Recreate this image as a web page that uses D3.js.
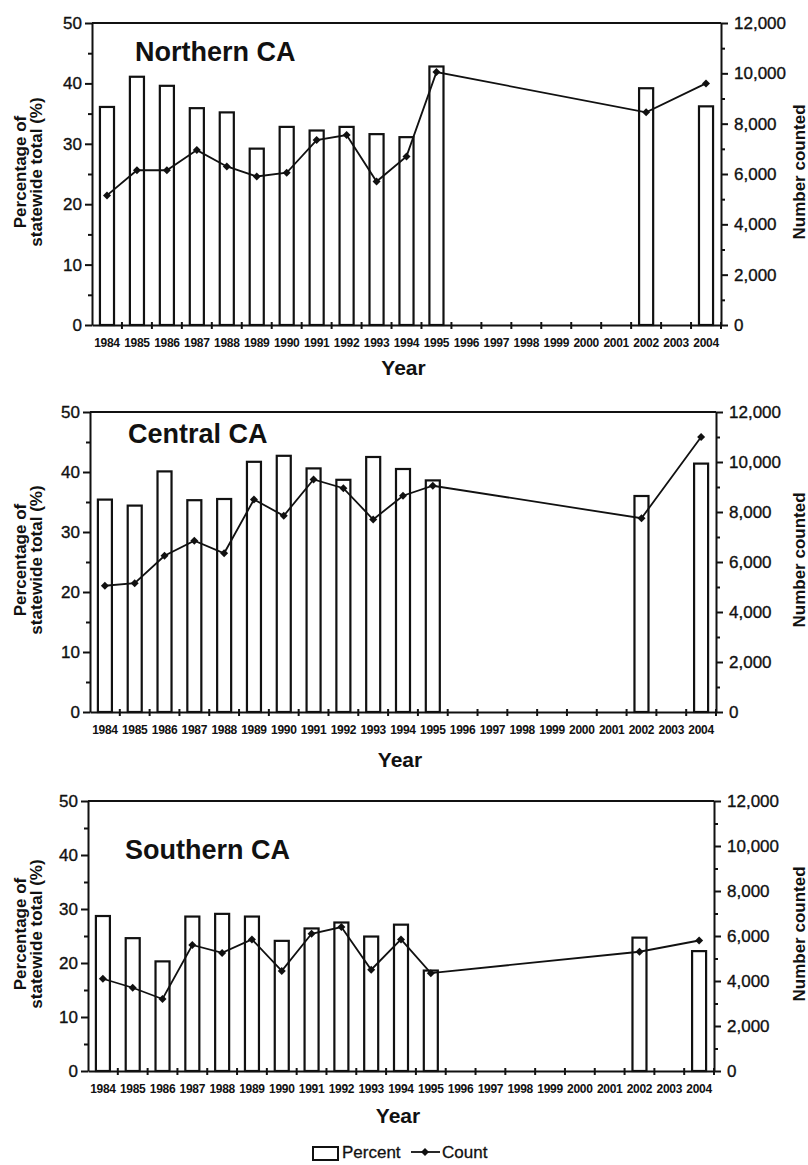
<!DOCTYPE html>
<html>
<head>
<meta charset="utf-8">
<script src="https://cdn.jsdelivr.net/npm/d3@7"></script>
<style>
  body { margin: 0; background: #fff; }
  svg { display: block; font-family: "Liberation Sans", Arial, sans-serif; }
</style>
</head>
<body>
<script>
// categories on the x axis (every year gets a slot, only some have data)
const years = ['1984','1985','1986','1987','1988','1989','1990','1991','1992','1993','1994',
  '1995','1996','1997','1998','1999','2000','2001','2002','2003','2004']
const dataYears = ['1984','1985','1986','1987','1988','1989','1990','1991','1992','1993','1994','1995','2002','2004']

// percent of statewide total (bars)
const northPct = [36.1, 41.1, 39.6, 35.9, 35.2, 29.2, 32.8, 32.2, 32.8, 31.6, 31.1, 42.8, 39.2, 36.2]
const centralPct = [35.4, 34.4, 40.1, 35.3, 35.5, 41.7, 42.7, 40.6, 38.7, 42.5, 40.5, 38.6, 36.0, 41.4]
const southPct = [28.7, 24.6, 20.3, 28.6, 29.1, 28.6, 24.1, 26.4, 27.5, 24.9, 27.1, 18.6, 24.7, 22.2]

// number counted (line)
const northCount = [5150, 6150, 6150, 6950, 6300, 5900, 6050, 7350, 7550, 5700, 6700, 10050, 8450, 9600]
const centralCount = [5050, 5150, 6250, 6850, 6350, 8500, 7850, 9300, 8950, 7700, 8650, 9050, 7750, 11000]
const southCount = [4100, 3700, 3200, 5600, 5250, 5850, 4450, 6100, 6400, 4500, 5850, 4350, 5300, 5800]

// ticks
const pctTicks = [0, 10, 20, 30, 40, 50]
const pctMinor = [5, 15, 25, 35, 45]
const countTicks = [0, 2000, 4000, 6000, 8000, 10000, 12000]
const countMinor = [1000, 3000, 5000, 7000, 9000, 11000]

const panels = [
  {title: 'Northern CA', pct: northPct, count: northCount, x0: 92, x1: 721, y0: 23, y1: 325, tx: 135, ty: 61, yearDy: 50},
  {title: 'Central CA', pct: centralPct, count: centralCount, x0: 90, x1: 716, y0: 412, y1: 712, tx: 128, ty: 443, yearDy: 55},
  {title: 'Southern CA', pct: southPct, count: southCount, x0: 88, x1: 714, y0: 801, y1: 1071, tx: 125, ty: 859, yearDy: 52}
]

const ink = '#111'
const svg = d3.select('body').append('svg').attr('width', 808).attr('height', 1165)

const diamond = d3.symbol().type(d3.symbolSquare).size(32)

panels.forEach(p => {
  const g = svg.append('g')
  const x = d3.scaleBand().domain(years).range([p.x0, p.x1])
  const yP = d3.scaleLinear().domain([0, 50]).range([p.y1, p.y0])
  const yC = d3.scaleLinear().domain([0, 12000]).range([p.y1, p.y0])
  const bw = x.bandwidth() * 0.47

  const rows = dataYears.map((yr, i) => ({year: yr, pct: p.pct[i], count: p.count[i]}))

  // bars
  g.selectAll('rect.bar').data(rows).enter().append('rect')
    .attr('class', 'bar')
    .attr('x', d => x(d.year) + (x.bandwidth() - bw) / 2)
    .attr('y', d => yP(d.pct))
    .attr('width', bw)
    .attr('height', d => yP(0) - yP(d.pct))
    .attr('fill', '#fff')
    .attr('stroke', ink)
    .attr('stroke-width', 2.2)

  // top frame line
  g.append('line')
    .attr('x1', p.x0).attr('x2', p.x1).attr('y1', p.y0).attr('y2', p.y0)
    .attr('stroke', ink).attr('stroke-width', 2)

  // left axis
  const left = g.append('g').attr('transform', `translate(${p.x0},0)`)
  left.call(d3.axisLeft(yP).tickValues(pctTicks).tickSize(7).tickSizeOuter(0).tickPadding(3))
  left.append('g').call(d3.axisLeft(yP).tickValues(pctMinor).tickSize(4).tickSizeOuter(0).tickFormat(''))
    .select('.domain').remove()

  // right axis
  const right = g.append('g').attr('transform', `translate(${p.x1},0)`)
  right.call(d3.axisRight(yC).tickValues(countTicks).tickSize(7).tickSizeOuter(0).tickPadding(6)
    .tickFormat(d3.format(',')))
  right.append('g').call(d3.axisRight(yC).tickValues(countMinor).tickSize(4).tickSizeOuter(0).tickFormat(''))
    .select('.domain').remove()

  // bottom axis: labels centred in slots, crossing ticks on slot edges
  const bottom = g.append('g').attr('transform', `translate(0,${p.y1})`)
  bottom.call(d3.axisBottom(x).tickSize(0).tickPadding(13))
  bottom.selectAll('text').attr('font-size', 12).attr('font-weight', 'bold').attr('letter-spacing', -0.3)
  const edges = years.slice(1).map(yr => x(yr)).concat([x.range()[1]])
  bottom.selectAll('line.edge').data(edges).enter().append('line')
    .attr('class', 'edge')
    .attr('x1', d => d).attr('x2', d => d).attr('y1', -3).attr('y2', 4)
    .attr('stroke', ink).attr('stroke-width', 2)

  g.selectAll('.domain').attr('stroke', ink).attr('stroke-width', 2)
  g.selectAll('.tick line').attr('stroke', ink).attr('stroke-width', 2)
  left.selectAll('text').attr('font-size', 17).attr('fill', ink).attr('font-family', null)
    .attr('stroke', ink).attr('stroke-width', 0.35)
  right.selectAll('text').attr('font-size', 17).attr('fill', ink).attr('font-family', null)
    .attr('stroke', ink).attr('stroke-width', 0.35)
  bottom.selectAll('text').attr('fill', ink).attr('font-family', null)

  // count line + markers
  const line = d3.line().x(d => x(d.year) + x.bandwidth() / 2).y(d => yC(d.count))
  g.append('path').datum(rows)
    .attr('d', line).attr('fill', 'none').attr('stroke', ink).attr('stroke-width', 1.8)
  g.selectAll('path.mark').data(rows).enter().append('path')
    .attr('class', 'mark')
    .attr('d', diamond)
    .attr('transform', d => `translate(${x(d.year) + x.bandwidth() / 2},${yC(d.count)}) rotate(45)`)
    .attr('fill', ink)

  // panel title
  g.append('text').attr('x', p.tx).attr('y', p.ty)
    .attr('font-size', 27).attr('font-weight', 'bold').attr('fill', ink).text(p.title)

  // axis titles
  const cy = (p.y0 + p.y1) / 2 - 2
  g.append('text').attr('transform', `translate(26,${cy}) rotate(-90)`)
    .attr('text-anchor', 'middle').attr('font-size', 17).attr('font-weight', 'bold').attr('fill', ink)
    .text('Percentage of')
  g.append('text').attr('transform', `translate(42,${cy}) rotate(-90)`)
    .attr('text-anchor', 'middle').attr('font-size', 17).attr('font-weight', 'bold').attr('fill', ink)
    .text('statewide total (%)')
  g.append('text').attr('transform', `translate(805,${cy}) rotate(-90)`)
    .attr('text-anchor', 'middle').attr('font-size', 17).attr('font-weight', 'bold').attr('fill', ink)
    .text('Number counted')
  g.append('text').attr('x', (p.x0 + p.x1) / 2 - 3).attr('y', p.y1 + p.yearDy)
    .attr('text-anchor', 'middle').attr('font-size', 21).attr('font-weight', 'bold').attr('fill', ink)
    .text('Year')
})

// legend
const legend = svg.append('g')
legend.append('rect').attr('x', 313).attr('y', 1147).attr('width', 25).attr('height', 13)
  .attr('fill', '#fff').attr('stroke', ink).attr('stroke-width', 2)
legend.append('text').attr('x', 342).attr('y', 1158).attr('font-size', 17).attr('fill', ink)
  .attr('stroke', ink).attr('stroke-width', 0.3).text('Percent')
legend.append('line').attr('x1', 411).attr('x2', 440).attr('y1', 1152).attr('y2', 1152)
  .attr('stroke', ink).attr('stroke-width', 1.8)
legend.append('path').attr('d', diamond).attr('transform', 'translate(425,1152) rotate(45)').attr('fill', ink)
legend.append('text').attr('x', 442).attr('y', 1158).attr('font-size', 17).attr('fill', ink)
  .attr('stroke', ink).attr('stroke-width', 0.3).text('Count')
</script>
</body>
</html>
